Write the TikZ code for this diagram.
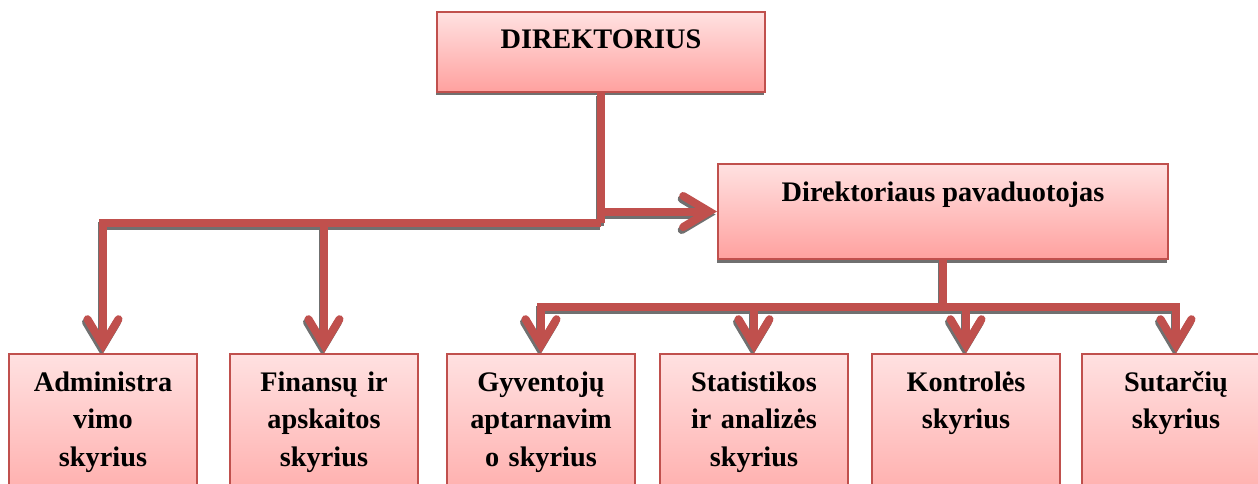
\documentclass[tikz,border=0pt]{standalone}
\usepackage{fontspec}
\setmainfont{Liberation Serif}
\usetikzlibrary{arrows.meta,shadows,backgrounds,calc}

\definecolor{linkred}{HTML}{C0504D}
\definecolor{boxtop}{HTML}{FFE1E1}
\definecolor{boxbot}{HTML}{FFA19F}
\definecolor{shade}{HTML}{707070}

\tikzset{
  unit/.style={draw=linkred, line width=2pt, top color=boxtop, bottom color=boxbot,
    inner sep=0pt, font=\bfseries\fontsize{28.3}{37.5}\selectfont,
    drop shadow={shadow xshift=-1pt, shadow yshift=-3.5pt, fill=shade, opacity=1}},
  topunit/.style={unit, anchor=north west},
  dept/.style={unit, anchor=north west, text width=188pt, align=center,
    text height=37pt, text depth=142pt},
  link/.style={draw=linkred, line width=8pt,
    -{Straight Barb[length=26pt, width=31pt, line join=miter, line cap=round]}},
  linkplain/.style={draw=linkred, line width=8pt},
  shadowed/.style={draw=shade, transform canvas={shift={(-1.5pt,-3pt)}}},
}

% wiring of the chart, drawn once as a shadow and once in colour
\newcommand\wiring[1]{%
  \draw[link,#1] (dir.south) |- (pav.west);
  \draw[linkplain,#1] (dir.south) -- (jl);
  \draw[link,#1] (jl) -| (adm.north);
  \draw[link,#1] (jl) -| (fin.north);
  \draw[linkplain,#1] (pav.south) -- (jr);
  \draw[link,#1] (jr) -| (gyv.north);
  \draw[link,#1] (jr) -| (sta.north);
  \draw[link,#1] (jr) -| (kon.north);
  \draw[link,#1] (jr) -| (sut.north);
}

\begin{document}
\begin{tikzpicture}[x=1pt, y=-1pt]
  \useasboundingbox (0,0) rectangle (1258,484);

  \node[topunit, minimum width=328pt, text height=37pt, text depth=43pt]
    (dir) at (436,11) {DIREKTORIUS};
  \node[topunit, minimum width=450pt, text height=37pt, text depth=58pt]
    (pav) at (717,163) {Direktoriaus pavaduotojas};

  \node[dept] (adm) at (8,353)    {Administra\\vimo\\skyrius};
  \node[dept] (fin) at (229,353)  {Finansų ir\\apskaitos\\skyrius};
  \node[dept] (gyv) at (446,353)  {Gyventojų\\aptarnavim\\o skyrius};
  \node[dept] (sta) at (659,353)  {Statistikos\\ir analizės\\skyrius};
  \node[dept] (kon) at (871,353)  {Kontrolės\\skyrius};
  \node[dept] (sut) at (1081,353) {Sutarčių\\skyrius};

  \coordinate (jl) at ($(dir.south)+(0,130)$);
  \coordinate (jr) at ($(pav.south)+(0,47)$);

  \begin{scope}[on background layer]
    \wiring{shadowed}
  \end{scope}
  \wiring{}
\end{tikzpicture}
\end{document}
